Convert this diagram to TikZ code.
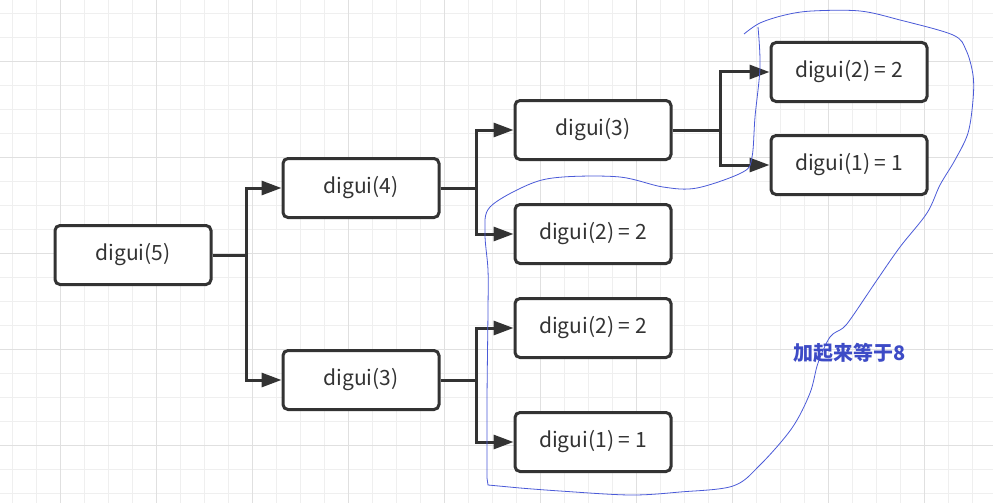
\documentclass[tikz,border=0pt]{standalone}
\usepackage{fontspec}
\setmainfont{Noto Sans CJK SC}
\usetikzlibrary{arrows.meta}

\definecolor{boxline}{HTML}{333333}
\definecolor{gridlight}{HTML}{EFEFEF}
\definecolor{griddark}{HTML}{E0E0E0}
\definecolor{penblue}{HTML}{4A5AD8}
\definecolor{noteblue}{HTML}{3D4BC6}

\tikzset{
  callbox/.style={draw=boxline, line width=3pt, rounded corners=5pt, fill=white,
    minimum width=156pt, minimum height=59pt, inner sep=0pt, text=boxline,
    font=\fontsize{21}{24}\selectfont},
  callarrow/.style={draw=boxline, line width=3pt, -{Triangle[length=20pt,width=14pt]}},
  gridminor/.style={gridlight, line width=1pt},
  gridmajor/.style={griddark, line width=1pt},
}

\begin{document}
\begin{tikzpicture}[x=1pt, y=-1pt]
	\useasboundingbox[fill=white] (0,0) rectangle (993,503);
	% background grid
	\foreach \i in {0,...,41} {
		\draw[gridminor] ({12.3+24*\i},0) -- ({12.3+24*\i},503);
	}
	\foreach \i in {0,...,20} {
		\draw[gridminor] (0,{13.3+24*\i}) -- (993,{13.3+24*\i});
	}
	\foreach \i in {0,...,10} {
		\draw[gridmajor] ({60.3+96*\i},0) -- ({60.3+96*\i},503);
	}
	\foreach \i in {0,...,4} {
		\draw[gridmajor] (0,{61.3+96*\i}) -- (993,{61.3+96*\i});
	}

	% calls
	\node[callbox] (d5)  at (133,255) {digui(5)};
	\node[callbox] (d4)  at (361,188) {digui(4)};
	\node[callbox] (d3b) at (361,380) {digui(3)};
	\node[callbox] (d3a) at (593,130) {digui(3)};
	\node[callbox] (d2a) at (593,234) {digui(2) = 2};
	\node[callbox] (d2b) at (593,328) {digui(2) = 2};
	\node[callbox] (d1b) at (593,442) {digui(1) = 1};
	\node[callbox] (d2c) at (849,72)  {digui(2) = 2};
	\node[callbox] (d1c) at (849,165) {digui(1) = 1};

	\draw[callarrow] (d5.east) -- ++(34,0) |- (d4.west);
	\draw[callarrow] (d5.east) -- ++(34,0) |- (d3b.west);
	\draw[callarrow] (d4.east) -- ++(36,0) |- (d3a.west);
	\draw[callarrow] (d4.east) -- ++(36,0) |- (d2a.west);
	\draw[callarrow] (d3b.east) -- ++(36,0) |- (d2b.west);
	\draw[callarrow] (d3b.east) -- ++(36,0) |- (d1b.west);
	\draw[callarrow] (d3a.east) -- ++(48,0) |- (d2c.west);
	\draw[callarrow] (d3a.east) -- ++(48,0) |- (d1c.west);

	% hand drawn loop
	\draw[penblue, line width=0.8pt] plot[smooth, tension=0.55] coordinates {
		(744,34) (760,23) (785,15) (812,11) (860,11) (900,20) (953,35) (966,50)
		(973,75) (973,100) (968,133) (955,160) (940,185) (927,213) (900,247)
		(877,280) (852,317) (843,328) (830,337) (818,363) (810,393) (792,428)
		(760,465) (733,486) (680,492) (630,495) (560,491) (520,488)}
		-- (488,485) -- plot[smooth, tension=0.55] coordinates {
		(487,478) (487,400) (488,310) (488,270) (485,233) (490,207) (530,184) (563,177)
		(620,177) (663,187) (697,188) (743,172) (752,157) (755,117) (760,67) (758,27)};
	\node[text=noteblue, font=\fontsize{20}{22}\selectfont\bfseries] (sum) at (850,353) {加起来等于8};
\end{tikzpicture}
\end{document}
